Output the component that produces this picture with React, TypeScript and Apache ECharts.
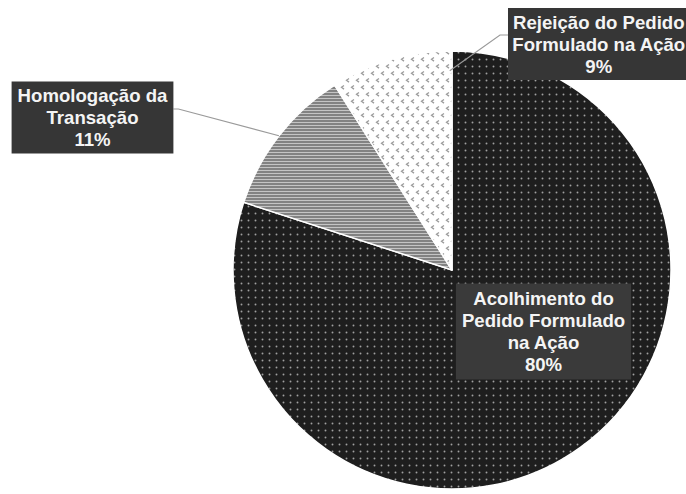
import React, { useEffect, useRef } from "react";
import * as echarts from "echarts";

// ---- data ----
const categories = [
  "Acolhimento do Pedido Formulado na Ação",
  "Homologação da Transação",
  "Rejeição do Pedido Formulado na Ação",
];
const labelTexts = [
  "Acolhimento do\nPedido Formulado\nna Ação",
  "Homologação da\nTransação",
  "Rejeição do Pedido\nFormulado na Ação",
];
const values = [80, 11, 9];

// ---- layout ----
const W = 686;
const H = 494;
const CX = 452;
const CY = 270;
const R = 219;

function makeTile(w: number, h: number, draw: (ctx: CanvasRenderingContext2D) => void) {
  const c = document.createElement("canvas");
  c.width = w;
  c.height = h;
  const ctx = c.getContext("2d") as CanvasRenderingContext2D;
  draw(ctx);
  return { image: c, repeat: "repeat", imageWidth: w, imageHeight: h } as any;
}

function slicePoint(i: number, t: number, frac: number): [number, number] {
  const total = values.reduce((a, b) => a + b, 0);
  let cum = 0;
  for (let k = 0; k < i; k++) cum += values[k];
  const pos = (cum + values[i] * t) / total;
  const deg = 90 - 360 * pos;
  const rad = (deg * Math.PI) / 180;
  return [CX + R * frac * Math.cos(rad), CY - R * frac * Math.sin(rad)];
}

export default function App() {
  const ref = useRef<HTMLDivElement>(null);
  useEffect(() => {
    if (!ref.current) return;
    const chart = echarts.init(ref.current, undefined, { renderer: "svg" });

    const darkDots = makeTile(7, 7, (ctx) => {
      ctx.fillStyle = "#1e1e1e";
      ctx.fillRect(0, 0, 7, 7);
      ctx.fillStyle = "#a0a0a0";
      ctx.beginPath();
      ctx.arc(3.5, 3.5, 0.95, 0, Math.PI * 2);
      ctx.fill();
    });
    const stripes = makeTile(4, 3, (ctx) => {
      ctx.fillStyle = "#828282";
      ctx.fillRect(0, 0, 4, 3);
      ctx.fillStyle = "#c4c4c4";
      ctx.fillRect(0, 2, 4, 1);
    });
    const chevrons = makeTile(10, 14, (ctx) => {
      ctx.fillStyle = "#ffffff";
      ctx.fillRect(0, 0, 10, 14);
      ctx.strokeStyle = "#9c9c9c";
      ctx.lineWidth = 1.3;
      const chev = (x: number, y: number) => {
        ctx.beginPath();
        ctx.moveTo(x + 2.5, y);
        ctx.lineTo(x, y + 1.8);
        ctx.lineTo(x + 2.5, y + 3.6);
        ctx.stroke();
      };
      chev(1.5, 1.5);
      chev(6.5, 8.5);
    });
    const fills = [darkDots, stripes, chevrons];
    const paddings = [[4, 6], [3, 6], [3, 4]];

    const base = {
      type: "pie",
      center: [CX, CY],
      radius: R,
      startAngle: 90,
      clockwise: true,
      avoidLabelOverlap: false,
      emphasis: { disabled: true },
      silent: true,
    };

    const option: any = {
      animation: false,
      backgroundColor: "#ffffff",
      series: [
        {
          ...base,
          z: 2,
          itemStyle: { borderColor: "#ffffff", borderWidth: 1.5 },
          label: { show: false },
          labelLine: { show: false },
          data: categories.map((name, i) => ({
            name,
            value: values[i],
            itemStyle: { color: fills[i] },
          })),
        },
        {
          ...base,
          z: 5,
          itemStyle: { color: "rgba(0,0,0,0)", borderWidth: 0 },
          label: {
            show: true,
            position: "outside",
            formatter: (p: any) => `${labelTexts[p.dataIndex]}\n${p.percent}%`,
            color: "#f4f4f4",
            fontFamily: "'Liberation Sans', Arial, sans-serif",
            fontWeight: "bold",
            fontSize: 18.6,
            lineHeight: 22,
            backgroundColor: "#363636",
            padding: [3, 6],
            align: "center",
          },
          labelLine: {
            show: true,
            smooth: false,
            lineStyle: { color: "#9a9a9a", width: 1.2 },
          },
          labelLayout: (params: any) => {
            const i = params.dataIndex;
            const w = params.labelRect.width;
            if (i === 0) {
              return { x: 543.5, y: 331.5, align: "center", verticalAlign: "middle" };
            }
            if (i === 1) {
              const x = 92.5;
              const y = 117.5;
              const right = x + w / 2;
              const p0 = slicePoint(1, 0.5, 1.0);
              return {
                x,
                y,
                align: "center",
                verticalAlign: "middle",
                labelLinePoints: [p0, [right + 5, y - 8.5], [right, y - 8.5]],
              };
            }
            const left = 508;
            const x = left + w / 2;
            const y = 44;
            const p0 = slicePoint(2, 0.98, 0.91);
            return {
              x,
              y,
              align: "center",
              verticalAlign: "middle",
              labelLinePoints: [p0, [left - 8, y - 9], [left, y - 9]],
            };
          },
          data: categories.map((name, i) => ({
            name,
            value: values[i],
            labelLine: { show: i !== 0 },
            label: i === 0
              ? { padding: paddings[i], backgroundColor: "#3a3a3a" }
              : { padding: paddings[i] },
          })),
        },
      ],
    };
    chart.setOption(option);
    return () => chart.dispose();
  }, []);

  return (
    <div
      ref={ref}
      style={{ position: "fixed", left: 0, top: 0, width: W, height: H, background: "#fff" }}
    />
  );
}
